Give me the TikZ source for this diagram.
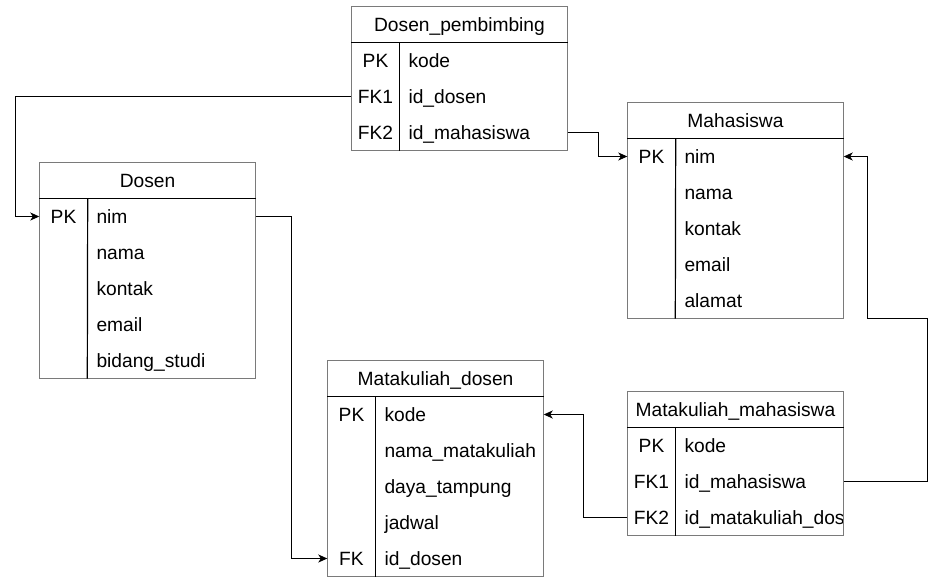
\documentclass[tikz,border=0pt]{standalone}
\usepackage{fontspec}
\setmainfont{Liberation Sans}
\usepackage{xcolor}
\usetikzlibrary{arrows.meta,calc}
\definecolor{boxgray}{HTML}{7A7A7A}
\tikzset{>={Stealth[length=9pt,width=8pt,inset=2.5pt]}}
\tikzset{
  tabhead/.style={minimum width=216pt,minimum height=36pt,inner sep=0pt,font=\fontsize{19.2}{22}\selectfont,text height=13.5pt,text depth=0pt},
  keycell/.style={minimum width=48pt,minimum height=36pt,inner sep=0pt,font=\fontsize{19.2}{22}\selectfont,text height=13.5pt,text depth=0pt},
  fieldcell/.style={minimum height=36pt,inner xsep=9pt,inner ysep=0pt,text width=150pt,align=left,font=\fontsize{19.2}{22}\selectfont,text height=13.5pt,text depth=0pt},
  boxline/.style={draw=boxgray,line width=1.2pt},
  sepline/.style={draw=black,line width=1.2pt},
  fk/.style={->,line width=1.2pt}
}

\begin{document}
\begin{tikzpicture}[x=1pt,y=-1pt]
  \useasboundingbox (0,0) rectangle (944,584);

  % Dosen_pembimbing
  \node[tabhead] (dp) at (459.5,24.5) {Dosen\_pembimbing};
  \node[keycell] (dp-k1) at (375.5,60.5) {PK};
  \node[keycell] (dp-k2) at (375.5,96.5) {FK1};
  \node[keycell] (dp-k3) at (375.5,132.5) {FK2};
  \node[fieldcell] (dp-f1) at (483.5,60.5) {kode};
  \node[fieldcell] (dp-f2) at (483.5,96.5) {id\_dosen};
  \node[fieldcell] (dp-f3) at (483.5,132.5) {id\_mahasiswa};

  % Dosen
  \node[tabhead] (d) at (147.5,180.5) {Dosen};
  \node[keycell] (d-k1) at (63.5,216.5) {PK};
  \node[fieldcell] (d-f1) at (171.5,216.5) {nim};
  \node[fieldcell] (d-f2) at (171.5,252.5) {nama};
  \node[fieldcell] (d-f3) at (171.5,288.5) {kontak};
  \node[fieldcell] (d-f4) at (171.5,324.5) {email};
  \node[fieldcell] (d-f5) at (171.5,360.5) {bidang\_studi};

  % Mahasiswa
  \node[tabhead] (m) at (735.5,120.5) {Mahasiswa};
  \node[keycell] (m-k1) at (651.5,156.5) {PK};
  \node[fieldcell] (m-f1) at (759.5,156.5) {nim};
  \node[fieldcell] (m-f2) at (759.5,192.5) {nama};
  \node[fieldcell] (m-f3) at (759.5,228.5) {kontak};
  \node[fieldcell] (m-f4) at (759.5,264.5) {email};
  \node[fieldcell] (m-f5) at (759.5,300.5) {alamat};

  % Matakuliah_dosen
  \node[tabhead] (md) at (435.5,378.5) {Matakuliah\_dosen};
  \node[keycell] (md-k1) at (351.5,414.5) {PK};
  \node[keycell] (md-k5) at (351.5,558.5) {FK};
  \node[fieldcell] (md-f1) at (459.5,414.5) {kode};
  \node[fieldcell] (md-f2) at (459.5,450.5) {nama\_matakuliah};
  \node[fieldcell] (md-f3) at (459.5,486.5) {daya\_tampung};
  \node[fieldcell] (md-f4) at (459.5,522.5) {jadwal};
  \node[fieldcell] (md-f5) at (459.5,558.5) {id\_dosen};

  % Matakuliah_mahasiswa
  \node[tabhead] (mm) at (735.5,409.5) {Matakuliah\_mahasiswa};
  \node[keycell] (mm-k1) at (651.5,445.5) {PK};
  \node[keycell] (mm-k2) at (651.5,481.5) {FK1};
  \node[keycell] (mm-k3) at (651.5,517.5) {FK2};
  \node[fieldcell] (mm-f1) at (759.5,445.5) {kode};
  \node[fieldcell] (mm-f2) at (759.5,481.5) {id\_mahasiswa};
  \node[fieldcell] (mm-f3) at (759.5,517.5) {id\_matakuliah\_dos};

  % Borders
  \draw[boxline] (dp.north west) rectangle (dp-f3.south east);
  \draw[sepline] (dp.south west) -- (dp.south east);
  \draw[sepline] (dp-k1.north east) -- (dp-k3.south east);
  \draw[boxline] (d.north west) rectangle (d-f5.south east);
  \draw[sepline] (d.south west) -- (d.south east);
  \draw[sepline] (d-k1.north east) -- (d-f5.south west);
  \draw[boxline] (m.north west) rectangle (m-f5.south east);
  \draw[sepline] (m.south west) -- (m.south east);
  \draw[sepline] (m-k1.north east) -- (m-f5.south west);
  \draw[boxline] (md.north west) rectangle (md-f5.south east);
  \draw[sepline] (md.south west) -- (md.south east);
  \draw[sepline] (md-k1.north east) -- (md-k5.south east);
  \draw[boxline] (mm.north west) rectangle (mm-f3.south east);
  \draw[sepline] (mm.south west) -- (mm.south east);
  \draw[sepline] (mm-k1.north east) -- (mm-k3.south east);

  % Lines
  \draw[fk] (dp-k2.west) -- ++(-336,0) |- (d-k1.west);
  \draw[fk] (d-f1.east) -- ++(36,0) |- (md-k5.west);
  \draw[fk] (dp-f3.east) -- ++(31,0) |- (m-k1.west);
  \draw[fk] (mm-f2.east) -- ++(84,0) |- ($(m-f5.south east)+(24,0)$) |- (m-f1.east);
  \draw[fk] (mm-k3.west) -- ++(-44,0) |- (md-f1.east);
\end{tikzpicture}
\end{document}
